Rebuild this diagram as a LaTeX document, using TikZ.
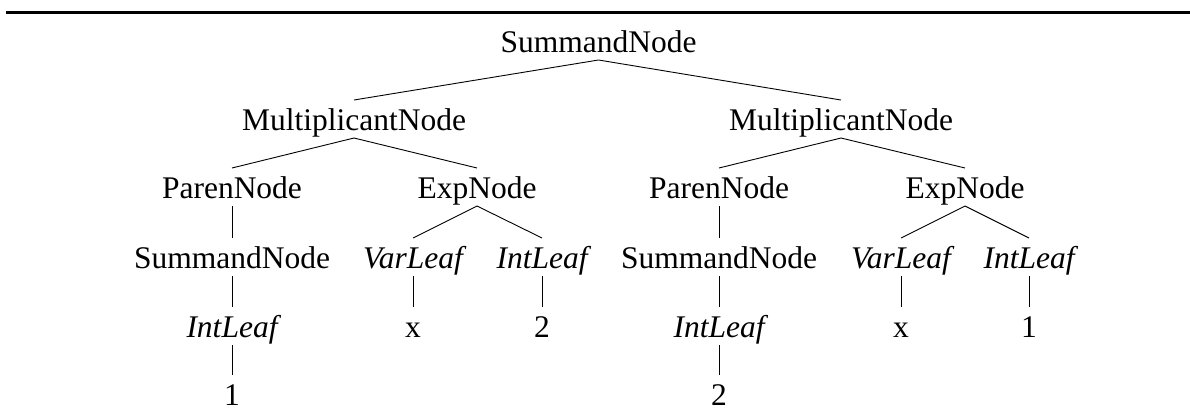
\documentclass[tikz,border=0pt]{standalone}
\usepackage{fontspec}
\setmainfont{Liberation Serif}
\begin{document}
\begin{tikzpicture}[x=1pt,y=-1pt,
  lbl/.style={anchor=base,inner sep=0pt,font=\fontsize{31.5}{36}\selectfont},
  ilbl/.style={lbl,font=\fontsize{31.5}{36}\selectfont\itshape},
  branch/.style={line width=0.9pt}]
\useasboundingbox (0,0) rectangle (1190,413);
% heading rule
\coordinate (ruleL) at (6,12.5);
\coordinate (ruleR) at (1190,12.5);
\draw[line width=3pt] (ruleL) -- (ruleR);

% row 0
\node[lbl] (root) at (598.5,52) {SummandNode};
% row 1
\node[lbl] (mA) at (354,130) {MultiplicantNode};
\node[lbl] (mB) at (841,130) {MultiplicantNode};
% row 2
\node[lbl] (pA) at (232,198) {ParenNode};
\node[lbl] (eA) at (477,198) {ExpNode};
\node[lbl] (pB) at (719,198) {ParenNode};
\node[lbl] (eB) at (965,198) {ExpNode};
% row 3
\node[lbl]  (sA) at (232,268) {SummandNode};
\node[ilbl] (vA) at (413,268) {VarLeaf};
\node[ilbl] (iA) at (542,268) {IntLeaf};
\node[lbl]  (sB) at (719,268) {SummandNode};
\node[ilbl] (vB) at (901,268) {VarLeaf};
\node[ilbl] (iB) at (1029,268) {IntLeaf};
% row 4
\node[ilbl] (jA) at (232,337) {IntLeaf};
\node[lbl]  (xA) at (413,337) {x};
\node[lbl]  (nA) at (542,337) {2};
\node[ilbl] (jB) at (719,337) {IntLeaf};
\node[lbl]  (xB) at (901,337) {x};
\node[lbl]  (nB) at (1029,337) {1};
% row 5
\node[lbl] (kA) at (232,405) {1};
\node[lbl] (kB) at (719,405) {2};

% branches: from just below the parent to just above the child
\foreach \p/\c in {root/mA,root/mB,mA/pA,mA/eA,mB/pB,mB/eB,
                   pA/sA,eA/vA,eA/iA,pB/sB,eB/vB,eB/iB,
                   sA/jA,vA/xA,iA/nA,sB/jB,vB/xB,iB/nB,
                   jA/kA,jB/kB}
  \draw[branch] ([yshift=-8pt]\p.base) -- ([yshift=30pt]\c.base);
\end{tikzpicture}
\end{document}
